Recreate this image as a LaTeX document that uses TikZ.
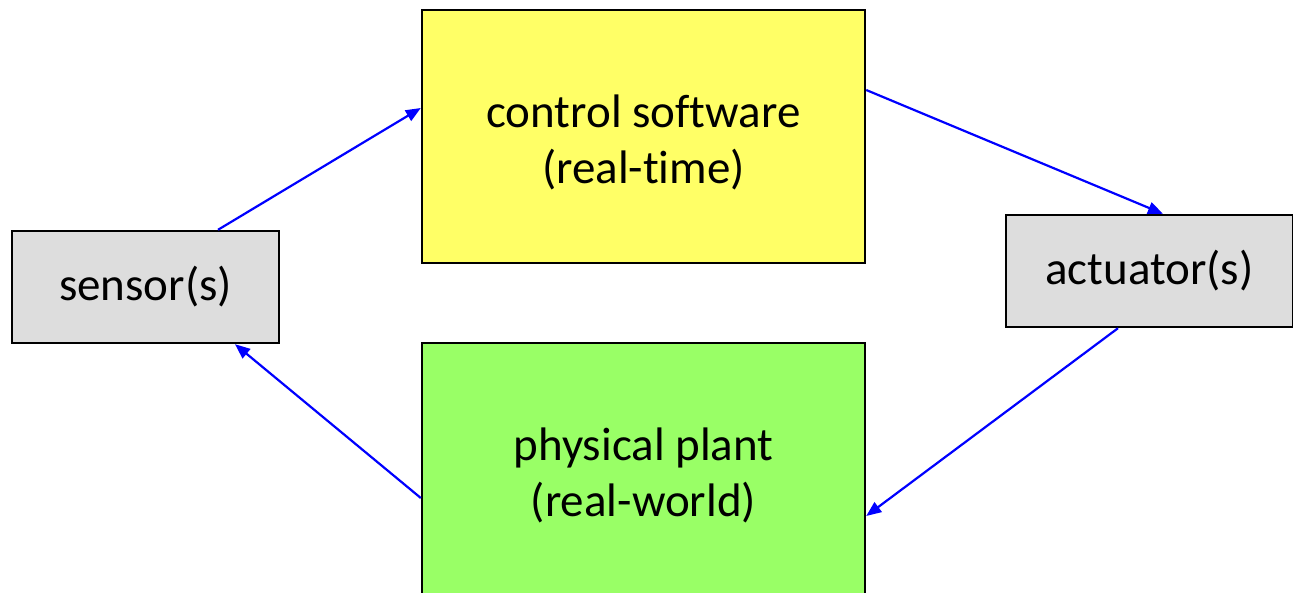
\documentclass[tikz,border=0pt]{standalone}
\usepackage{fontspec}
\setmainfont[Ligatures={NoCommon}]{Carlito}
\usetikzlibrary{arrows.meta}
\definecolor{boxyellow}{HTML}{FFFF66}
\definecolor{boxgray}{HTML}{DDDDDD}
\definecolor{boxgreen}{HTML}{99FF66}
\definecolor{arrblue}{HTML}{0000FF}
\begin{document}
\begin{tikzpicture}[x=1pt,y=1pt,
  box/.style={draw=black,line width=2.4pt,inner sep=0pt,align=center,
    font=\fontsize{47}{56}\selectfont},
  txt/.style={align=center,font=\fontsize{47}{56}\selectfont,yshift=-6pt},
  conn/.style={draw=arrblue,line width=2.2pt,-{Triangle[length=15pt,width=12pt]}}]
\useasboundingbox (0,0) rectangle (1293,-593);
\node[box,fill=boxyellow,minimum width=443pt,minimum height=253pt,
  label={[txt]center:control software\\(real-time)}] (control) at (643.5,-136.5) {};
\node[box,fill=boxgray,minimum width=267pt,minimum height=112pt] (sensor) at (145.5,-287) {sensor(s)};
\node[box,fill=boxgray,minimum width=287pt,minimum height=112pt] (actuator) at (1149.5,-271) {actuator(s)};
\node[box,fill=boxgreen,minimum width=443pt,minimum height=253pt,
  label={[txt]center:physical plant\\(real-world)}] (plant) at (643.5,-469.5) {};
\draw[conn] ([xshift=72.5pt]sensor.north) -- ([yshift=28.5pt]control.west);
\draw[conn] ([yshift=46.5pt]control.east) -- ([xshift=13.5pt]actuator.north);
\draw[conn] ([xshift=-31.5pt]actuator.south) -- ([yshift=-46.5pt]plant.east);
\draw[conn] ([yshift=-28.5pt]plant.west) -- ([xshift=89.5pt]sensor.south);
\end{tikzpicture}
\end{document}
